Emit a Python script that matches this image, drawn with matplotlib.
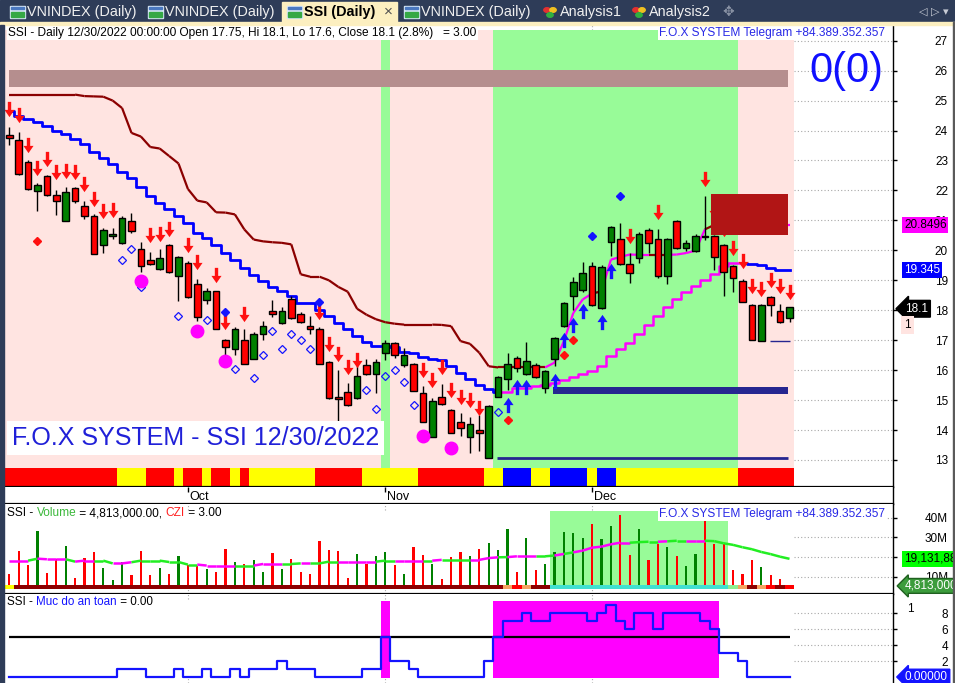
import numpy as np
import pandas as pd
import matplotlib
matplotlib.use("Agg")
import matplotlib.pyplot as plt
import matplotlib.transforms as mtransforms
from matplotlib.path import Path
from matplotlib.collections import LineCollection
from matplotlib.patches import Rectangle, Circle

plt.rcParams['font.family'] = ['Liberation Sans', 'DejaVu Sans']

W, H = 955, 683

# ---------------- data ----------------
dates = pd.bdate_range('2022-09-06', '2022-12-30')   # 84 sessions

opens = [23.86, 23.69, 22.96, 21.98, 22.48, 21.85, 20.97, 22.08, 21.48, 21.16,
         20.18, 20.47, 20.23, 20.98, 20.05, 19.69, 19.38, 20.19, 19.14, 19.58,
         18.89, 18.33, 18.63, 17.02, 16.71, 17.02, 16.38, 17.22, 17.99, 17.58,
         18.38, 17.88, 17.47, 17.38, 16.28, 15.10, 15.28, 15.08, 16.17, 15.86,
         16.58, 16.91, 16.16, 16.22, 15.22, 13.78, 15.11, 14.67, 14.28, 13.78,
         13.99, 13.07, 15.11, 15.71, 16.41, 15.88, 16.17, 15.41, 16.38, 17.47,
         18.47, 18.67, 19.49, 18.08, 20.27, 20.38, 19.55, 19.75, 20.68, 20.38,
         19.13, 20.98, 20.08, 19.97, 20.48, 20.49, 20.19, 19.49, 18.99, 18.18,
         16.98, 18.45, 17.99, 17.75]
highs = [24.11, 23.94, 23.00, 22.25, 22.50, 22.03, 22.11, 22.10, 21.65, 21.20,
         20.73, 20.75, 21.16, 21.25, 20.27, 19.95, 20.03, 20.20, 19.80, 19.64,
         19.05, 18.75, 18.65, 17.05, 17.45, 17.36, 17.27, 17.63, 18.33, 18.11,
         18.47, 17.93, 17.82, 17.45, 16.30, 16.00, 15.56, 16.36, 16.36, 16.36,
         17.00, 16.95, 16.75, 16.25, 15.47, 15.06, 15.55, 14.70, 14.56, 14.45,
         14.49, 14.82, 15.80, 16.56, 16.46, 16.95, 16.23, 16.00, 17.10, 18.27,
         19.11, 19.60, 19.60, 19.50, 20.80, 20.91, 19.91, 20.60, 20.75, 20.72,
         20.40, 21.00, 20.36, 20.56, 21.82, 20.50, 20.20, 19.50, 19.05, 18.20,
         18.20, 18.47, 18.22, 18.10]
lows = [23.53, 22.50, 22.00, 21.30, 21.80, 21.19, 20.97, 21.58, 21.05, 19.88,
        19.90, 20.38, 20.20, 20.58, 19.27, 19.50, 19.35, 19.25, 18.30, 18.40,
        17.63, 18.21, 17.38, 16.41, 16.52, 16.19, 16.38, 17.00, 17.77, 17.55,
        17.72, 17.56, 17.22, 16.19, 15.05, 14.30, 14.80, 15.05, 15.85, 15.22,
        16.33, 16.40, 16.10, 15.30, 14.27, 13.78, 14.85, 13.89, 13.80, 13.22,
        13.30, 13.05, 15.10, 15.33, 15.94, 15.85, 15.75, 15.25, 16.13, 17.45,
        18.02, 18.60, 18.15, 18.05, 19.80, 19.50, 18.91, 19.58, 19.91, 19.08,
        18.86, 20.05, 19.97, 19.95, 20.36, 19.36, 18.47, 18.60, 18.28, 17.00,
        16.98, 17.80, 17.58, 17.60]
closes = [23.75, 22.55, 22.05, 22.18, 21.85, 21.64, 21.96, 21.64, 21.14, 19.88,
          20.69, 20.56, 21.09, 20.63, 19.47, 19.54, 19.75, 19.28, 19.78, 18.45,
          17.78, 18.63, 17.38, 16.78, 17.38, 16.19, 17.22, 17.49, 17.89, 17.99,
          17.75, 17.61, 17.38, 16.19, 15.08, 15.02, 14.82, 15.80, 15.88, 16.28,
          16.91, 16.49, 16.49, 15.30, 14.27, 14.97, 14.88, 13.89, 14.08, 14.21,
          13.89, 14.80, 15.78, 16.21, 16.08, 16.30, 15.78, 15.97, 17.08, 18.25,
          18.95, 19.25, 18.17, 19.45, 20.78, 19.55, 19.25, 20.55, 20.25, 19.13,
          20.38, 20.08, 20.25, 20.48, 20.46, 19.77, 19.27, 19.08, 18.28, 17.01,
          18.18, 18.16, 17.60, 18.10]

# trailing lines (upper = resistance, lower = support)
upper_line = [25.2, 25.2, 25.2, 25.2, 25.2, 25.2, 25.2, 25.2, 25.15, 25.14,
              25.13, 25.0, 24.75, 23.92, 23.8, 23.45, 23.4, 23.15, 22.9, 22.05,
              21.66, 21.6, 21.27, 21.26, 21.2, 20.7, 20.36, 20.3, 20.27, 20.25,
              20.2, 19.2, 19.12, 19.12, 19.0, 18.78, 18.62, 18.05, 17.85, 17.7,
              17.6, 17.55, 17.52, 17.52, 17.52, 17.52, 17.51, 17.47, 16.97, 16.88,
              16.58, 16.13, 16.09, 16.09, 16.09, 16.09, 16.09, 16.09, 16.25, 16.97,
              17.91, 18.36, 18.56, 18.63, 19.69, 19.78, 19.86, 19.85, 19.85, 19.85,
              19.85, 19.86, 19.91, 19.99, 20.70, 20.8496, 20.8496, 20.8496, 20.8496, 20.8496,
              20.8496, 20.8496, 20.8496, 20.8496]
upper_brown_until = 57
upper_brown_extra = [63, 69, 70, 75]
lower_line = [24.64, 24.47, 24.38, 24.30, 24.16, 24.0, 23.88, 23.73, 23.54, 23.30,
              23.07, 22.88, 22.63, 22.40, 22.12, 21.82, 21.59, 21.37, 21.16, 20.90,
              20.59, 20.40, 20.18, 19.90, 19.68, 19.40, 19.18, 18.96, 18.79, 18.63,
              18.46, 18.24, 18.24, 18.0, 17.8, 17.58, 17.36, 17.13, 16.95, 16.8,
              16.8, 16.78, 16.62, 16.56, 16.45, 16.36, 16.35, 16.13, 15.89, 15.72,
              15.52, 15.36, 15.27, 15.27, 15.41, 15.41, 15.47, 15.5, 15.56, 15.67,
              15.76, 15.86, 15.97, 16.13, 16.46, 16.7, 16.9, 17.22, 17.51, 17.8,
              18.1, 18.36, 18.61, 18.8, 19.02, 19.22, 19.47, 19.58, 19.58, 19.55,
              19.5, 19.41, 19.36, 19.345]
uptrend_start, uptrend_end = 52, 78

# signals
down_idx = [0, 1, 2, 3, 4, 5, 6, 7, 8, 9, 10, 11, 15, 16, 17, 19, 20, 22, 23, 25,
            33, 34, 35, 36, 37, 44, 45, 46, 47, 48, 49, 50, 66, 69, 74, 75, 76,
            77, 78, 79, 80, 81, 82, 83]
down_tip = [24.47, 24.25, 23.27, 22.49, 22.78, 22.36, 22.41, 22.36, 21.97, 21.45,
            21.05, 21.08, 20.25, 20.30, 20.47, 19.92, 19.36, 18.92, 17.36, 17.63,
            17.69, 16.63, 16.27, 15.86, 16.08, 15.75, 15.41, 15.86, 15.08, 14.86,
            14.75, 14.47, 20.22, 21.02, 22.13, 21.08, 20.45, 19.82, 19.38, 18.56,
            18.47, 18.75, 18.56, 18.36]
up_idx = [53, 54, 55, 58, 59, 60, 61, 63, 64]
up_tip = [15.08, 15.69, 15.69, 15.89, 17.25, 17.77, 18.22, 17.86, 19.58]
red_dot_idx = [3, 53, 59, 60]
red_dot_p = [20.31, 14.33, 16.5, 17.0]
blue_dot_idx = [23, 33, 62, 65]
blue_dot_p = [17.93, 18.27, 20.49, 21.8]
hollow_idx = [12, 13, 14, 18, 21, 24, 26, 27, 28, 29, 30, 31, 32, 38, 39, 40, 41, 42, 43, 52]
hollow_p = [19.69, 20.06, 18.77, 17.8, 17.69, 16.05, 15.75, 16.5, 17.3, 16.72,
            17.21, 17.0, 16.72, 15.33, 14.69, 15.8, 16.0, 15.62, 14.83, 14.6]
magenta_idx = [14, 20, 23, 44, 47]
magenta_p = [18.99, 17.3, 16.29, 13.79, 13.39]

# zones / levels
green_runs = [(40, 40), (52, 77)]
state_strip = ("RRRRRRRRRRRR" "YYY" "RRR" "Y" "RR" "Y" "RR" "Y" "R" "YYYYYYY" "RRRRR"
               "YYYYYY" "RRRRRRR" "YY" "BBB" "YY" "BBBB" "Y" "BB" "YYYYYYYYYYYYY" "RRRRRR")
resist_band = (25.47, 26.03)
supply_box = (74.7, 82.85, 20.5, 21.87)
support_zone = (57.8, 82.85, 15.2, 15.43)
support_line = (51.9, 82.85, 13.07)
last_low_line = (80.9, 83.1, 16.97)

volume_m = [11.4, 23.1, 16.0, 33.2, 11.9, 18.9, 25.6, 9.4, 19.5, 22.6,
            14.5, 8.4, 17.5, 11.0, 23.1, 11.0, 14.5, 11.4, 20.6, 16.0,
            15.7, 13.9, 12.6, 24.1, 17.5, 16.5, 18.5, 12.6, 22.2, 13.9,
            19.0, 12.6, 11.4, 28.3, 23.6, 23.1, 9.4, 21.6, 16.5, 20.6,
            22.6, 16.0, 11.4, 25.1, 21.0, 16.5, 8.9, 20.1, 22.6, 20.6,
            24.1, 27.3, 23.6, 34.3, 12.6, 29.9, 13.4, 16.5, 22.7, 32.9,
            32.4, 29.9, 36.8, 29.2, 35.8, 41.4, 21.1, 34.3, 18.6, 26.6,
            25.1, 20.6, 15.5, 21.6, 38.5, 26.6, 26.6, 13.4, 11.4, 18.6,
            14.9, 11.0, 8.9, 4.813]
vol_ma_m = [18.2, 18.2, 18.2, 19.2, 18.9, 18.9, 18.9, 17.7, 18.2, 18.2,
            18.2, 16.8, 16.8, 17.4, 18.2, 18.2, 18.2, 17.5, 17.5, 16.2,
            16.2, 15.7, 15.7, 15.7, 15.7, 15.7, 15.7, 16.5, 16.5, 16.5,
            16.5, 16.8, 16.8, 16.8, 17.7, 17.7, 17.7, 17.7, 17.7, 17.7,
            18.2, 18.2, 18.2, 18.2, 18.2, 18.2, 18.6, 18.6, 18.6, 18.6,
            18.6, 19.5, 19.9, 20.0, 20.4, 20.4, 20.4, 20.4, 20.8, 21.6,
            22.4, 23.3, 24.8, 25.3, 26.5, 27.3, 27.3, 27.6, 27.8, 27.8,
            28.0, 28.3, 28.3, 28.3, 28.3, 28.1, 27.0, 26.2, 25.0, 24.0,
            22.6, 21.5, 20.2, 19.131883]
vol_ma_magenta = [0, 1, 2, 4, 5, 6, 8, 9, 12, 13, 21, 22, 23, 24, 27, 28, 29, 32,
                  36, 37, 38, 39, 42, 43, 44, 46, 50, 51, 52, 54, 55, 56, 59, 61,
                  62, 63, 64, 65, 66, 70, 73, 74]
vol_strip = "Y" + "D" * 52 + "ORODD" + "T" * 19 + "LODORDR"

safety = [0] * 12 + [1, 1, 1, 0, 0, 0, 1, 0, 0, 1, 0, 0, 1, 0, 1, 1, 1, 2, 1, 1, 1,
          0, 0, 0, 0, 0, 1, 1, 5, 2, 2, 1, 0, 0, 0, 0, 0, 0, 0, 2, 5, 7, 7, 8, 7, 7,
          8, 8, 8, 8, 7, 8, 9, 7, 6, 8, 8, 6, 8, 8, 8, 8, 7, 6, 3, 3, 2, 0, 0, 0, 0, 0]
safety_level = 5

# ---------------- colours ----------------
PINK, LGREEN = '#ffe4e1', '#98fb98'
RED, GREEN, BLUE, MAG, BROWN = '#ff0000', '#008000', '#0000ff', '#ff00ff', '#8b0000'
NAVY = '#262690'
strip_col = {'R': '#ff0000', 'Y': '#ffff00', 'B': '#0000ff'}
vstrip_col = {'Y': '#ffff00', 'D': '#8b0000', 'O': '#f4a460', 'R': '#ff0000',
              'T': '#40e0d0', 'L': '#90ee90'}

n = len(dates)
x = np.arange(n)
o, h, l, c = map(np.array, (opens, highs, lows, closes))
vol = np.array(volume_m)
month_idx = [i for i in range(1, n) if dates[i].month != dates[i - 1].month]

fig = plt.figure(figsize=(W / 100, H / 100), dpi=100)


def px_axes(x0, y0, x1, y1):
    return fig.add_axes([x0 / W, 1 - y1 / H, (x1 - x0) / W, (y1 - y0) / H])


def fig_rect(x0, y0, x1, y1, color, **kw):
    fig.patches.append(Rectangle((x0 / W, 1 - y1 / H), (x1 - x0) / W, (y1 - y0) / H,
                                 transform=fig.transFigure, color=color, **kw))


def color_text(ax, xa, ya, parts, **kw):
    r = fig.canvas.get_renderer()
    t = ax.transAxes
    for s, col in parts:
        txt = ax.text(xa, ya, s, color=col, transform=t, **kw)
        bb = txt.get_window_extent(renderer=r)
        t = mtransforms.offset_copy(txt.get_transform(), x=bb.width, units='dots')


def runs(mask):
    out, start = [], None
    for i, v in enumerate(mask):
        if v and start is None:
            start = i
        if not v and start is not None:
            out.append((start, i - 1))
            start = None
    if start is not None:
        out.append((start, len(mask) - 1))
    return out


XL = (-0.457, 94.01)
ax = px_axes(5, 25, 893, 487)
ax_d = px_axes(5, 487, 893, 504)
ax_v = px_axes(5, 504, 893, 594)
ax_s = px_axes(5, 594, 893, 683)

for a in (ax, ax_d, ax_v, ax_s):
    a.set_xlim(*XL)
    a.set_xticks([])
    for side in ('top', 'left'):
        a.spines[side].set_visible(False)
    a.spines['right'].set_linewidth(1)
    a.spines['bottom'].set_linewidth(1.6)
ax_s.spines['bottom'].set_visible(False)

# ---------------- price panel ----------------
ax.set_ylim(12.098, 27.524)
yt = np.arange(13, 28)
ax.set_yticks(yt)
ax.tick_params(axis='y', left=False, right=True, labelleft=False, labelright=True,
               length=3, width=1, pad=36.6, labelsize=8.5)
for lab in ax.get_yticklabels():
    lab.set_horizontalalignment('right')
ax.hlines(yt, n - 0.5, XL[1], colors='#a8a8a8', linestyles=(0, (1, 2)), lw=0.8, zorder=0.3)
for m in month_idx:
    ax.axvline(m, 0.989, 1, color='#a8a8a8', ls=(0, (1, 2)), lw=0.8, zorder=0.3)

ax.axvspan(-0.5, n - 0.5, 0.041, 0.989, color=PINK, lw=0, zorder=0.6)
for a0, a1 in green_runs:
    ax.axvspan(a0 - 0.5, a1 + 0.5, 0.041, 0.989, color=LGREEN, lw=0, zorder=0.7)
ax.bar(x, 12.733 - 12.098, bottom=12.098, width=1.0,
       color=[strip_col[s] for s in state_strip], lw=0, zorder=2)

ax.fill_between([0, supply_box[1]], *resist_band, color='#b58e8e', lw=0, zorder=1)
ax.fill_between(support_zone[:2], support_zone[2], support_zone[3], color=NAVY, lw=0, zorder=3)
ax.hlines(support_line[2], support_line[0], support_line[1], colors=NAVY, lw=2, zorder=3)
ax.hlines(last_low_line[2], last_low_line[0], last_low_line[1], colors=NAVY, lw=1, zorder=3)

# trailing lines
up_pts = np.column_stack([x, upper_line])
segs = np.stack([up_pts[:-1], up_pts[1:]], axis=1)
seg_cols = [BROWN if (k <= upper_brown_until or k in upper_brown_extra) else MAG
            for k in range(1, n)]
ax.add_collection(LineCollection(segs, colors=seg_cols, lw=1.6, zorder=3.2))
s0, s1 = uptrend_start, uptrend_end
ax.plot(x[:s0 + 1], lower_line[:s0 + 1], color=BLUE, lw=2, drawstyle='steps-mid', zorder=3.3)
ax.plot(x[s0:s1 + 1], lower_line[s0:s1 + 1], color=MAG, lw=1.8, drawstyle='steps-mid', zorder=3.3)
ax.plot(x[s1:], lower_line[s1:], color=BLUE, lw=2, drawstyle='steps-mid', zorder=3.3)

# candles
up = c >= o
ax.vlines(x, l, h, colors='black', lw=1, zorder=4)
ax.bar(x, np.maximum(np.abs(c - o), 0.02), bottom=np.minimum(o, c), width=0.7,
       color=np.where(up, GREEN, RED), edgecolor='black', linewidth=1, zorder=5)

# signal markers
dverts = [(-0.22, 1.0), (0.22, 1.0), (0.22, -0.05), (0.66, -0.05), (0.0, -1.0),
          (-0.66, -0.05), (-0.22, -0.05), (-0.22, 1.0)]
down_arrow = Path(dverts, closed=True)
up_arrow = Path([(vx, -vy) for vx, vy in dverts], closed=True)
AMS = 11
half = AMS / 72 * 100 / 2 / 29.95
ax.plot(down_idx, np.array(down_tip) + half, ls='none', marker=down_arrow, ms=AMS,
        color='#ff1010', mew=0, zorder=6)
ax.plot(up_idx, np.array(up_tip) - half, ls='none', marker=up_arrow, ms=AMS,
        color='#1414ff', mew=0, zorder=6)
ax.plot(red_dot_idx, red_dot_p, ls='none', marker='D', ms=4.5, color='#ff1010', zorder=6)
ax.plot(blue_dot_idx, blue_dot_p, ls='none', marker='D', ms=4.5, color='#1414ff', zorder=6)
ax.plot(hollow_idx, hollow_p, ls='none', marker='D', ms=4.5, mfc='none', mec='#1414ff',
        mew=0.9, zorder=6)
ax.plot(magenta_idx, magenta_p, ls='none', marker='o', ms=9, color=MAG, zorder=6)

ax.fill_between(supply_box[:2], supply_box[2], supply_box[3], color='#b11515', lw=0, zorder=7)

# texts in price panel
hdr = (f"SSI - Daily {dates[-1]:%m/%d/%Y} 00:00:00 Open {o[-1]:g}, Hi {h[-1]:g}, "
       f"Lo {l[-1]:g}, Close {c[-1]:g} ({(c[-1] / c[-2] - 1) * 100:.1f}%)   = 3.00")
ax.text(0.0034, 0.9827, hdr, transform=ax.transAxes, fontsize=8.6, va='center', ha='left',
        zorder=9, bbox=dict(boxstyle='square,pad=0.12', fc='white', ec='none'))
ax.text(0.991, 0.9827, "F.O.X SYSTEM Telegram +84.389.352.357", transform=ax.transAxes,
        fontsize=8.6, va='center', ha='right', color='#2828e6', zorder=9,
        bbox=dict(boxstyle='square,pad=0.12', fc='white', ec='none'))
ax.text(0.989, 0.90, "0(0)", transform=ax.transAxes, fontsize=30, color='#1010ff',
        ha='right', va='center', zorder=9)
ax.text(0.008, 0.106, f"F.O.X SYSTEM - SSI {dates[-1]:%m/%d/%Y}", transform=ax.transAxes,
        fontsize=18, color='#2020d8', ha='left', va='center', zorder=9,
        bbox=dict(boxstyle='square,pad=0.2', fc='white', ec='none'))

rt = mtransforms.blended_transform_factory(ax.transAxes, ax.transData)
ax.text(1.0125, upper_line[-1], f"{upper_line[-1]:.4f}", transform=rt, fontsize=8.5,
        va='center', ha='left', zorder=10, clip_on=False,
        bbox=dict(boxstyle='square,pad=0.15', fc=MAG, ec='none'))
ax.text(1.0125, lower_line[-1], f"{lower_line[-1]:.3f}", transform=rt, fontsize=8.5,
        va='center', ha='left', color='white', zorder=10, clip_on=False,
        bbox=dict(boxstyle='square,pad=0.15', fc=BLUE, ec='none'))
ax.text(1.0135, c[-1] - 0.05, f"{c[-1]:g}", transform=rt, fontsize=8.5, va='center',
        ha='left', color='white', zorder=10, clip_on=False,
        bbox=dict(boxstyle='larrow,pad=0.2', fc='black', ec='black'))
ax.text(1.0125, c[-1] - 0.6, "1", transform=rt, fontsize=8.5, va='center', ha='left',
        zorder=10, clip_on=False, bbox=dict(boxstyle='square,pad=0.25', fc=PINK, ec='none'))

# ---------------- date strip ----------------
ax_d.set_ylim(0, 1)
ax_d.set_yticks([])
ax_d.vlines(month_idx, 0.68, 1.0, colors='black', lw=1)
for m in month_idx:
    ax_d.text(m + 0.2, 0.4, f"{dates[m]:%b}", fontsize=9, ha='left', va='center')

# ---------------- volume panel ----------------
vb = 3.81
ax_v.set_ylim(1.27, 46.95)
vt = [10, 20, 30, 40]
ax_v.set_yticks(vt)
ax_v.set_yticklabels([f"{v}M" for v in vt])
ax_v.tick_params(axis='y', left=False, right=True, labelleft=False, labelright=True,
                 length=3, width=1, pad=36.6, labelsize=8.5)
for lab in ax_v.get_yticklabels():
    lab.set_horizontalalignment('right')
ax_v.hlines(vt, n - 0.5, XL[1], colors='#a8a8a8', linestyles=(0, (1, 2)), lw=0.8)
for m in month_idx:
    ax_v.axvline(m, 0, 0.056, color='#a8a8a8', ls=(0, (1, 2)), lw=0.8)
    ax_v.axvline(m, 0.93, 1, color='#a8a8a8', ls=(0, (1, 2)), lw=0.8)
for a0, a1 in runs([s == 'T' for s in vol_strip]):
    ax_v.fill_between([a0 - 0.5, a1 + 0.5], vb, 43.4, color=LGREEN, lw=0, zorder=0.6)
ax_v.bar(x, vol - vb, bottom=vb, width=0.22, color=np.where(up, GREEN, RED), lw=0, zorder=2)
ax_v.bar(x, 2.03, bottom=vb, width=1.0, color=[vstrip_col[s] for s in vol_strip], lw=0, zorder=3)
ma_pts = np.column_stack([x, vol_ma_m])
ma_segs = np.stack([ma_pts[:-1], ma_pts[1:]], axis=1)
ma_cols = [MAG if k in vol_ma_magenta else '#22ee22' for k in range(1, n)]
ax_v.add_collection(LineCollection(ma_segs, colors=ma_cols, lw=1.8, zorder=4))

color_text(ax_v, 0.0023, 0.9, [("SSI - ", 'black'), ("Volume", '#3cb83c'),
                               (f" = {vol[-1] * 1e6:,.2f}, ", 'black'), ("CZI", '#ff2020'),
                               (" = 3.00", 'black')], fontsize=8.6, va='center', zorder=9)
ax_v.text(0.991, 0.889, "F.O.X SYSTEM Telegram +84.389.352.357", transform=ax_v.transAxes,
          fontsize=8.6, va='center', ha='right', color='#2828e6', zorder=9,
          bbox=dict(boxstyle='square,pad=0.12', fc='white', ec='none'))
rv = mtransforms.blended_transform_factory(ax_v.transAxes, ax_v.transData)
ax_v.text(1.0125, vol_ma_m[-1], f"{vol_ma_m[-1] * 1e6:,.0f}", transform=rv, fontsize=8.5,
          va='center', ha='left', zorder=10, clip_on=False,
          bbox=dict(boxstyle='square,pad=0.15', fc='#00ff00', ec='none'))
ax_v.text(1.0135, 0.09, f"{vol[-1] * 1e6:,.0f}", transform=ax_v.transAxes, fontsize=8.5,
          va='center', ha='left', color='white', zorder=10, clip_on=False,
          bbox=dict(boxstyle='larrow,pad=0.12', fc='#3c9c3c', ec='#206020'))

# ---------------- safety panel ----------------
saf = np.array(safety)
ax_s.set_ylim(-0.75, 10.375)
st = [2, 4, 6, 8]
ax_s.set_yticks(st)
ax_s.tick_params(axis='y', left=False, right=True, labelleft=False, labelright=True,
                 length=3, width=1, pad=36.6, labelsize=8.5)
for lab in ax_s.get_yticklabels():
    lab.set_horizontalalignment('right')
ax_s.hlines(st, n - 0.5, XL[1], colors='#a8a8a8', linestyles=(0, (1, 2)), lw=0.8)
for m in month_idx:
    ax_s.axvline(m, 0, 0.06, color='#a8a8a8', ls=(0, (1, 2)), lw=0.8)
    ax_s.axvline(m, 0.94, 1, color='#a8a8a8', ls=(0, (1, 2)), lw=0.8)
for a0, a1 in runs(saf >= safety_level):
    ax_s.fill_between([a0 - 0.5, a1 + 0.5], -0.16, 9.5, color=MAG, lw=0, zorder=1)
ax_s.hlines(safety_level, 0, n - 1, colors='black', lw=1.6, zorder=2)
ax_s.plot(x, saf, color='#1414ff', lw=1.6, drawstyle='steps-mid', zorder=3)
color_text(ax_s, 0.0023, 0.91, [("SSI - ", 'black'), ("Muc do an toan", '#1414ff'),
                                (f" = {saf[-1]:.2f}", 'black')], fontsize=8.4, va='center', zorder=9)
ax_s.text(1.016, 0.83, "1", transform=ax_s.transAxes, fontsize=8.5, va='center', ha='left')
rs = mtransforms.blended_transform_factory(ax_s.transAxes, ax_s.transData)
ax_s.text(1.0135, saf[-1], f"{saf[-1]:.5f}", transform=rs, fontsize=8.5, va='center',
          ha='left', color='white', zorder=10, clip_on=False,
          bbox=dict(boxstyle='larrow,pad=0.15', fc='#1414ff', ec='#1414ff'))

# ---------------- window chrome: tabs and borders ----------------
fig_rect(0, 0, W, 22, '#2e3c58')
fig_rect(0, 22, W, 25, '#fcefc0')
fig_rect(0, 25, 4, H, '#2e3c58')
fig_rect(953, 22, 954, H, '#5a5a5a')
fig_rect(282, 2, 397, 22, '#fcefc0')

tabs = [("VNINDEX (Daily)", 10, 'chart'), ("VNINDEX (Daily)", 148, 'chart'),
        ("SSI (Daily)", 287, 'chart'), ("VNINDEX (Daily)", 404, 'chart'),
        ("Analysis1", 543, 'heart'), ("Analysis2", 632, 'heart')]
for name, tx, icon in tabs:
    active = name.startswith("SSI")
    if icon == 'chart':
        fig_rect(tx, 6, tx + 15, 18, '#d6e6f6')
        fig_rect(tx + 1, 12, tx + 14, 17, '#35a845')
        fig_rect(tx + 1, 7, tx + 14, 9, '#4a78c0')
    else:
        for dx, dy, col in ((4, 10, '#e23030'), (10, 10, '#f0c020'), (7, 15, '#30b040')):
            fig.patches.append(Circle(((tx + dx) / W, 1 - dy / H), 3.2 / W,
                                      transform=fig.transFigure, color=col))
    fig.text((tx + 17) / W, 1 - 12 / H, name, fontsize=10.4, va='center', ha='left',
             color='black' if active else '#f0f0f0', fontweight='bold' if active else 'normal')
fig.text(388 / W, 1 - 12 / H, "×", fontsize=11, va='center', ha='center', color='#505050')
fig.text(728 / W, 1 - 12 / H, "✥", fontsize=10, va='center', ha='center', color='#8a93a5',
         family=['DejaVu Sans'])
fig.text(934 / W, 1 - 12 / H, "◁ ▷ ▾", fontsize=8, va='center', ha='center', color='#c8ccd6',
         family=['DejaVu Sans'])

fig.savefig('out.png', dpi=100)
